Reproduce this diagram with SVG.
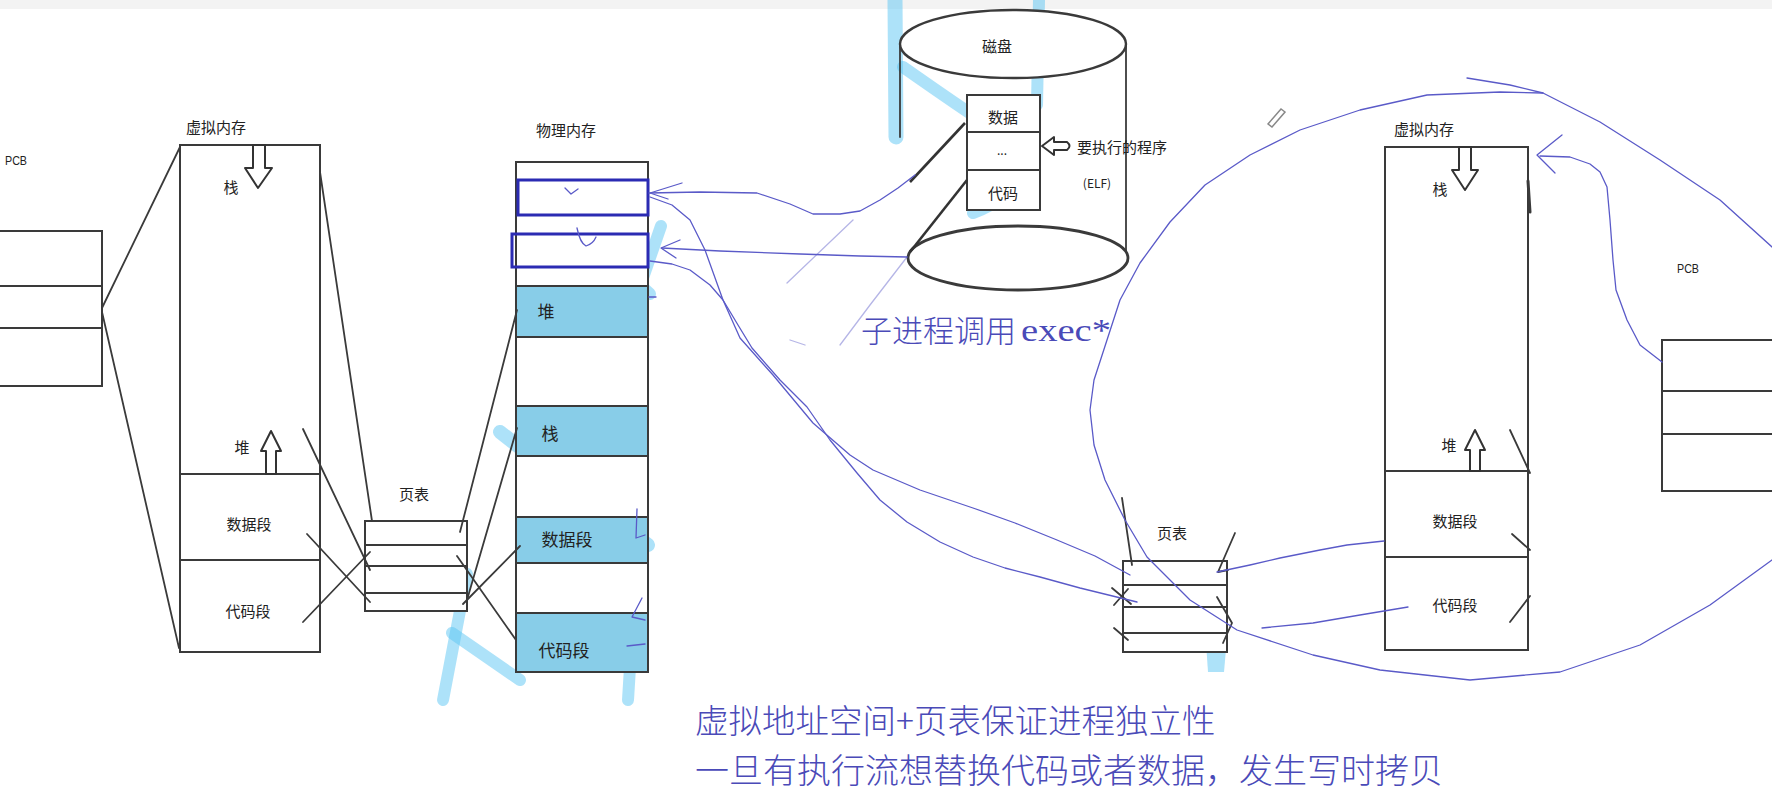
<svg xmlns="http://www.w3.org/2000/svg" width="1772" height="792" viewBox="0 0 1772 792">
<style>
.box{fill:#fff;stroke:#3a3a3a;stroke-width:2}
.ln{stroke:#3a3a3a;stroke-width:1.8;fill:none;stroke-linecap:round;stroke-linejoin:round}
.thick{stroke:#333;stroke-width:2.6;fill:none}
.lbl{font-family:"Noto Sans CJK SC","Noto Sans",sans-serif;font-size:15px;fill:#222;text-anchor:middle;dominant-baseline:central}
.big{font-size:17px}
.small{font-size:12px}
.start{text-anchor:start}
.lat{font-family:"Liberation Sans",sans-serif;font-size:13px;fill:#222;dominant-baseline:central}
.band{fill:#88cde8}
.sel{fill:none;stroke:#2b2bb3;stroke-width:3}
.ink{stroke:#5a5ac8;stroke-width:1.3;fill:none;stroke-linecap:round;stroke-linejoin:round}
.faint{stroke-opacity:0.45}
.hl{stroke:#5cc6f3;stroke-opacity:0.5;fill:none;stroke-linecap:round;stroke-linejoin:round;stroke-width:12}
.note{font-family:"Noto Sans CJK SC",sans-serif;font-weight:300;fill:#4a4ab8;dominant-baseline:central}
.serif{font-family:"Liberation Serif",serif;font-weight:normal}
.arrowshape{fill:#fff;stroke:#333;stroke-width:2;stroke-linejoin:round}
</style>
<rect width="1772" height="792" fill="#fff"/>
<rect width="1772" height="9" fill="#f3f3f3"/>

<g id="highlights">
  <path class="hl" style="stroke-width:15" d="M895,0 L896,137"/>
  <path class="hl" d="M1039,0 L1037,105"/>
  <path class="hl" d="M903,67 Q950,100 980,120 Q1010,145 1013,173 Q1010,200 973,213"/>
  <path class="hl" d="M576,226 L650,294"/>
  <path class="hl" d="M661,226 L610,373"/>
  <path class="hl" style="stroke-width:14" d="M500,432 L587,500 L648,545"/>
  <path class="hl" d="M443,700 L467,574"/>
  <path class="hl" d="M452,633 L520,680"/>
  <path class="hl" d="M580,625 Q610,600 640,612"/>
  <path class="hl" d="M634,602 L628,700"/>
  <polygon points="1205,628 1228,626 1224,672 1208,672" fill="#5cc6f3" fill-opacity="0.5"/>
</g>

<g id="pcb-left">
  <rect class="box" x="-2" y="231" width="104" height="155"/>
  <line class="ln" x1="0" y1="286" x2="102" y2="286"/>
  <line class="ln" x1="0" y1="328" x2="102" y2="328"/>
  <text class="lat" x="5" y="160" textLength="22" lengthAdjust="spacingAndGlyphs">PCB</text>
</g>

<g id="vm-left">
  <text class="lbl" x="216" y="126">虚拟内存</text>
  <rect class="box" x="180" y="145" width="140" height="507"/>
  <line class="ln" x1="180" y1="474" x2="320" y2="474"/>
  <line class="ln" x1="180" y1="560" x2="320" y2="560"/>
  <path class="arrowshape" d="M253,145 L265,145 L265,168 L272,168 L258,188 L245,168 L253,168 Z"/>
  <text class="lbl" x="231" y="186">栈</text>
  <path class="arrowshape" d="M271,431 L281,451 L276,451 L276,474 L266,474 L266,451 L261,451 Z"/>
  <text class="lbl" x="242" y="446">堆</text>
  <text class="lbl" x="249" y="523">数据段</text>
  <text class="lbl" x="248" y="610">代码段</text>
</g>

<g id="pagetable-left">
  <text class="lbl" x="414" y="493">页表</text>
  <rect class="box" x="365" y="521" width="102" height="90"/>
  <line class="ln" x1="365" y1="545" x2="467" y2="545"/>
  <line class="ln" x1="365" y1="566" x2="467" y2="566"/>
  <line class="ln" x1="365" y1="593" x2="467" y2="593"/>
</g>

<g id="physical-memory">
  <text class="lbl" x="566" y="129">物理内存</text>
  <rect class="box" x="516" y="162" width="132" height="510"/>
  <rect class="band" x="517" y="286" width="130" height="51"/>
  <rect class="band" x="517" y="406" width="130" height="50"/>
  <rect class="band" x="517" y="517" width="130" height="46"/>
  <rect class="band" x="517" y="613" width="130" height="58"/>
  <g class="ln">
    <line x1="516" y1="286" x2="648" y2="286"/>
    <line x1="516" y1="337" x2="648" y2="337"/>
    <line x1="516" y1="406" x2="648" y2="406"/>
    <line x1="516" y1="456" x2="648" y2="456"/>
    <line x1="516" y1="517" x2="648" y2="517"/>
    <line x1="516" y1="563" x2="648" y2="563"/>
    <line x1="516" y1="613" x2="648" y2="613"/>
  </g>
  <rect class="sel" x="518" y="180" width="130" height="35"/>
  <rect class="sel" x="512" y="234" width="136" height="33"/>
  <text class="lbl big" x="546" y="310">堆</text>
  <text class="lbl big" x="550" y="432">栈</text>
  <text class="lbl big" x="567" y="538">数据段</text>
  <text class="lbl big" x="564" y="649">代码段</text>
</g>

<g id="disk">
  <line class="ln" x1="900" y1="44" x2="900" y2="137"/>
  <line class="ln" x1="1126" y1="44" x2="1126" y2="258"/>
  <ellipse class="box" style="stroke-width:2.4" cx="1013" cy="44" rx="113" ry="34"/>
  <ellipse class="box" style="stroke-width:2.8" cx="1018" cy="258" rx="110" ry="32"/>
  <text class="lbl" x="997" y="45">磁盘</text>
  <rect class="box" x="967" y="95" width="73" height="115"/>
  <line class="ln" x1="967" y1="132" x2="1040" y2="132"/>
  <line class="ln" x1="967" y1="170" x2="1040" y2="170"/>
  <text class="lbl" x="1003" y="116">数据</text>
  <text class="lbl small" x="1002" y="149">...</text>
  <text class="lbl" x="1003" y="192">代码</text>
  <path class="arrowshape" d="M1042,146 L1054,137 L1054,142 L1067,142 Q1072,146 1067,150 L1054,150 L1054,155 Z"/>
  <text class="lbl start" x="1077" y="146">要执行的程序</text>
  <text class="lbl small" x="1097" y="182">(ELF)</text>
</g>

<g id="vm-right">
  <text class="lbl" x="1424" y="128">虚拟内存</text>
  <rect class="box" x="1385" y="147" width="143" height="503"/>
  <line class="ln" x1="1385" y1="471" x2="1528" y2="471"/>
  <line class="ln" x1="1385" y1="557" x2="1528" y2="557"/>
  <path class="arrowshape" d="M1459,147 L1471,147 L1471,170 L1478,170 L1465,190 L1452,170 L1459,170 Z"/>
  <text class="lbl" x="1440" y="188">栈</text>
  <path class="arrowshape" d="M1475,430 L1485,450 L1480,450 L1480,471 L1470,471 L1470,450 L1465,450 Z"/>
  <text class="lbl" x="1449" y="444">堆</text>
  <text class="lbl" x="1455" y="520">数据段</text>
  <text class="lbl" x="1455" y="604">代码段</text>
</g>

<g id="pagetable-right">
  <text class="lbl" x="1172" y="532">页表</text>
  <rect class="box" x="1123" y="561" width="104" height="91"/>
  <line class="ln" x1="1123" y1="585" x2="1227" y2="585"/>
  <line class="ln" x1="1123" y1="607" x2="1227" y2="607"/>
  <line class="ln" x1="1123" y1="633" x2="1227" y2="633"/>
</g>

<g id="pcb-right">
  <text class="lat" x="1677" y="268" textLength="22" lengthAdjust="spacingAndGlyphs">PCB</text>
  <rect class="box" x="1662" y="340" width="112" height="151"/>
  <line class="ln" x1="1662" y1="391" x2="1772" y2="391"/>
  <line class="ln" x1="1662" y1="434" x2="1772" y2="434"/>
</g>

<g id="connectors">
  <g class="ln">
    <path d="M102,308 L180,147"/>
    <path d="M102,312 L179,648"/>
    <path d="M320,172 L372,521"/>
    <path d="M303,429 L370,570"/>
    <path d="M307,534 L370,602"/>
    <path d="M303,622 L370,552"/>
    <path d="M460,532 L517,310"/>
    <path d="M467,600 L517,428"/>
    <path d="M463,604 L520,546"/>
    <path d="M457,556 L516,640"/>
    <path style="stroke-width:3" d="M1528,181 L1530,212"/>
    <path d="M1510,430 L1530,473"/>
    <path d="M1512,534 L1530,550"/>
    <path d="M1510,622 L1530,596"/>
    <path d="M1122,498 L1132,565"/>
    <path d="M1235,533 L1218,572 L1228,570"/>
    <path d="M1217,597 L1232,623 L1223,643"/>
    <path d="M1112,588 L1131,604 M1114,605 L1128,589"/>
    <path d="M1114,628 L1128,640"/>
  </g>
  <path class="thick" d="M965,123 L910,182"/>
  <path class="thick" d="M967,180 L910,252"/>
  <path d="M1268,124 L1281,109 L1285,112 L1272,127 Z" fill="none" stroke="#888" stroke-width="1.5"/>
</g>

<g id="ink">
  <path class="ink" d="M650,197 L672,205 L690,220 L705,250 L723,300 L740,338 L773,375 L813,423 L850,455 L873,470 L920,490 L973,508 L1015,523 L1057,540 L1095,556 L1130,575"/>
  <path class="ink" d="M650,261 L672,264 L690,270 L710,285 L723,300 L738,325 L752,348 L780,380 L807,407 L830,440 L857,473 L880,500 L907,522 L940,542 L973,557 L1005,568 L1040,577 L1080,588 L1137,602"/>
  <path class="ink" d="M649,193 L700,192 L757,193 L790,204 L813,214 L840,214 L860,211 L880,200 L898,188 L915,175"/>
  <path class="ink" d="M662,248 L720,251 L800,254 L860,256 L907,257"/>
  <path class="ink" d="M682,183 L650,193 L668,199"/>
  <path class="ink" d="M680,240 L661,248 L676,258"/>
  <path class="ink faint" d="M787,283 L853,220"/>
  <path class="ink faint" d="M840,345 L870,305 L907,257"/>
  <path class="ink faint" d="M790,340 L805,345"/>
  <path class="ink" d="M565,188 L571,194 L578,189"/>
  <path class="ink" d="M577,228 Q580,243 586,246 Q593,244 596,237"/>
  <path class="ink" d="M649,297 L656,297"/>
  <path class="ink" d="M637,509 L636,538 L645,535"/>
  <path class="ink" d="M642,598 L632,617 L645,620"/>
  <path class="ink" d="M627,646 L645,644"/>
  <path class="ink" d="M1543,93 L1500,92 L1427,95 L1360,110 L1300,130 L1250,155 L1205,185 L1170,222 L1140,263 L1120,300 L1107,340 L1094,380 L1090,410 L1094,445 L1105,480 L1125,520 L1147,557 L1190,600 L1237,630 L1313,655 L1380,670 L1470,680 L1560,672 L1640,645 L1710,605 L1772,560"/>
  <path class="ink" d="M1467,78 L1510,85 L1543,93 L1600,122 L1660,160 L1720,200 L1772,247"/>
  <path class="ink" d="M1662,362 L1640,345 L1627,320 L1616,290 L1613,260 L1610,220 L1607,187 L1600,172 L1590,164 L1570,157 L1540,156"/>
  <path class="ink" d="M1562,135 L1537,155 L1555,173"/>
  <path class="ink" d="M1217,572 L1250,565 L1280,558 L1320,550 L1347,545 L1384,541"/>
  <path class="ink" d="M1262,628 L1313,623 L1360,615 L1408,607"/>
</g>

<g id="notes">
  <text class="note" x="861" y="328" font-size="31">子进程调用</text>
  <text class="note serif" x="1021" y="330" font-size="31" textLength="90" lengthAdjust="spacingAndGlyphs">exec*</text>
  <text class="note" x="695" y="718" font-size="33.5">虚拟地址空间+页表保证进程独立性</text>
  <text class="note" x="695" y="768" font-size="34">一旦有执行流想替换代码或者数据，发生写时拷贝</text>
</g>
</svg>
